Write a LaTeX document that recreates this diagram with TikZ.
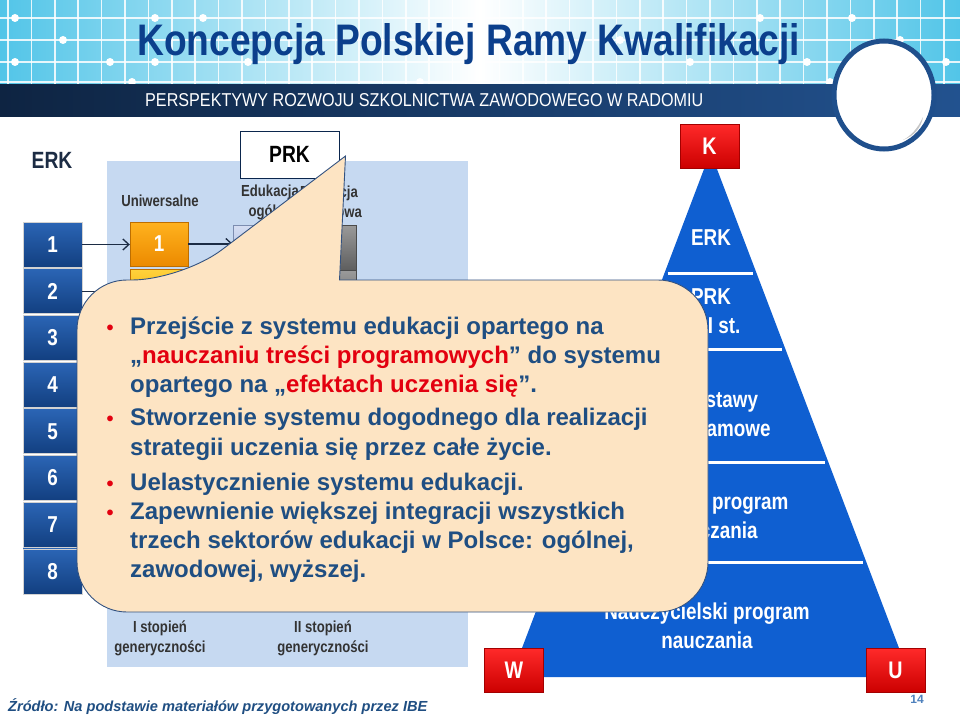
\documentclass[tikz,border=0pt]{standalone}
\usepackage{fontspec}
\setmainfont{Liberation Sans}
\newfontfamily\nar[FakeStretch=0.82]{Liberation Sans}
\usetikzlibrary{arrows.meta}
\definecolor{navy}{HTML}{1C2C44}
\definecolor{titleblue}{HTML}{0B3F8C}
\definecolor{txtblue}{HTML}{1F4E82}
\definecolor{hired}{HTML}{E3000F}
\definecolor{panel}{HTML}{C6D9F1}
\definecolor{peach}{HTML}{FDE4C3}
\definecolor{pyr}{HTML}{0F5FD1}
\definecolor{cyanA}{HTML}{52C5E8}
\definecolor{bandL}{HTML}{0E2442}
\definecolor{bandR}{HTML}{22528F}
\definecolor{ringc}{HTML}{1F4F8C}
\definecolor{labgray}{HTML}{333333}
\definecolor{pnum}{HTML}{4F81BD}
\definecolor{orT}{HTML}{FFB21E}
\definecolor{orB}{HTML}{EC8A00}
\definecolor{or2T}{HTML}{FFD23C}
\definecolor{or2B}{HTML}{F5A800}
\definecolor{lbT}{HTML}{D6DEF2}
\definecolor{lbB}{HTML}{9BB0DC}
\definecolor{grT}{HTML}{9A9A9A}
\definecolor{grB}{HTML}{5E5E5E}
\definecolor{rdT}{HTML}{FF2A2A}
\definecolor{rdB}{HTML}{CC0000}
\definecolor{bxT}{HTML}{2B65B5}
\definecolor{bxB}{HTML}{123F80}
\tikzset{
  erkbox/.style={rectangle, minimum width=59pt, minimum height=45pt, inner sep=0pt,
    top color=bxT, bottom color=bxB, draw=gray!35, line width=0.7pt,
    text=white, font=\nar\bfseries\fontsize{23}{23}\selectfont},
  orbox/.style={rectangle, minimum width=58pt, minimum height=44pt, inner sep=0pt,
    top color=orT, bottom color=orB, draw=orB!80!black, line width=0.4pt,
    text=white, font=\nar\bfseries\fontsize{23}{23}\selectfont},
  lbbox/.style={rectangle, minimum width=58pt, minimum height=45pt, inner sep=0pt,
    top color=lbT, bottom color=lbB, draw=lbB!80!black, line width=0.4pt},
  grbox/.style={rectangle, minimum width=58pt, minimum height=45pt, inner sep=0pt,
    top color=grT, bottom color=grB, draw=grB!80!black, line width=0.4pt},
  redbox/.style={rectangle, minimum width=59pt, minimum height=44pt, inner sep=0pt,
    top color=rdT, bottom color=rdB, draw=rdB!80!black, line width=0.4pt,
    text=white, font=\nar\bfseries\fontsize{24}{24}\selectfont},
  lab/.style={text=labgray, font=\nar\bfseries\fontsize{16}{20}\selectfont, align=center, inner sep=0pt},
  pyrtxt/.style={text=white, font=\nar\bfseries\fontsize{23}{29}\selectfont, align=center, inner sep=0pt},
  big/.style={text=navy, font=\nar\bfseries\fontsize{23.5}{23.5}\selectfont, inner sep=0pt},
  cline/.style={anchor=base west, text=txtblue, font=\bfseries\fontsize{24}{24}\selectfont, inner sep=0pt},
  cbul/.style={anchor=base, text=hired, font=\bfseries\fontsize{20}{20}\selectfont, inner sep=0pt},
  arr/.style={draw=navy, line width=1.3pt, -{Straight Barb[length=6pt,width=11pt]}},
  gridl/.style={draw=white, line width=1.6pt, opacity=0.85},
}
\begin{document}
\begin{tikzpicture}[x=1pt,y=-1pt]
\useasboundingbox (0,0) rectangle (960,717);
\fill[white] (0,0) rectangle (960,717);
% header
\shade[left color=cyanA, right color=cyanA, middle color=white] (0,0) rectangle (960,84);
\begin{scope}
\clip (0,0) rectangle (960,84);
\foreach \k in {0,...,40} \draw[gridl] ({8+23.4*\k},0) -- ({8+23.4*\k},84);
\foreach \yy in {18,40,62,82} \draw[gridl] (0,\yy) -- (960,\yy);
\foreach \p in {(15,18),(63,40),(15,62),(110,62),(155,62),(155,18),(203,18),(248,62),(132,82),(852,18),(900,40),(807,62),(946,62),(830,82),(760,18),(690,62),(620,40),(420,82)}
  \fill[white] \p circle (4);
\end{scope}
\shade[left color=bandL, right color=bandR] (0,84) rectangle (960,116);
\node[anchor=base west, inner sep=0pt, text=titleblue] (title) at (137,56)
  {\resizebox{663pt}{32pt}{\bfseries Koncepcja Polskiej Ramy Kwalifikacji}};
\node[anchor=base west, inner sep=0pt, text=white] (band) at (145,106)
  {\resizebox{558pt}{13pt}{\nar PERSPEKTYWY ROZWOJU SZKOLNICTWA ZAWODOWEGO W RADOMIU}};
\draw[ringc, line width=5pt, fill=white] (884,95) ellipse [x radius=50, y radius=54];
\fill[gray!45] (903,140) .. controls (911,136) and (918,128) .. (923,117) .. controls (921,128) and (914,136) .. (903,140);
% left panel
\fill[panel] (107,161) rectangle (468,667);
\node[big] (erk) at (52,160) {ERK};
\node[rectangle, draw=bxB!60!black, line width=0.8pt, fill=white, minimum width=99pt, minimum height=47pt, inner sep=0pt, text=black, font=\nar\bfseries\fontsize{23.5}{23.5}\selectfont] (prk) at (289.5,154.5) {PRK};
\node[lab] (uni) at (160,201) {Uniwersalne};
\node[lab] (edo) at (270,202) {Edukacja\\ogólna};
\node[lab] (edz) at (329,202) {Edukacja\\zawodowa};
\foreach \i in {1,...,8} \node[erkbox] (e\i) at (52.5,{244.5+46.7*(\i-1)}) {\i};
\node[orbox] (o1) at (159,244) {1};
\node[orbox, top color=or2T, bottom color=or2B] (o2) at (159,291) {};
\node[lbbox] (lb1) at (262,247.5) {};
\node[grbox] (g1) at (327,247.5) {};
\node[grbox] (g2) at (327,293) {};
\draw[arr] (e1.east) -- (e1.east -| o1.west);
\draw[arr] (o1.east) -- (o1.east -| lb1.west);
\draw[arr] (e2.east) -- (e2.east -| o2.west);
\node[lab] (st1) at (160,638) {I stopień\\generyczności};
\node[lab] (st2) at (323,638) {II stopień\\generyczności};
% pyramid
\fill[pyr] (710.5,152) -- (910,677) -- (511,677) -- cycle;
\foreach \yy in {273,349,462,562}
  \draw[white, line width=3pt] ({710.5-0.38*(\yy-152)+3},\yy) -- ({710.5+0.38*(\yy-152)-3},\yy);
\node[pyrtxt] (p1) at (711,238) {ERK};
\node[pyrtxt] (p2) at (711,311.5) {PRK\\I i II st.};
\node[pyrtxt] (p3) at (714,416) {Podstawy\\programowe};
\node[pyrtxt] (p4) at (712,516) {Szkolny program\\nauczania};
\node[pyrtxt] (p5) at (707,626) {Nauczycielski program\\nauczania};
\node[redbox] (K) at (709.5,146) {K};
\node[redbox] (W) at (514,670) {W};
\node[redbox] (U) at (895.5,670) {U};
\node[anchor=base, inner sep=0pt, text=pnum, font=\bfseries\fontsize{12}{12}\selectfont] (pg) at (917,703) {14};
\node[anchor=base west, inner sep=0pt, text=txtblue, font=\bfseries\itshape\fontsize{14.6}{14.6}\selectfont] (src) at (8,711)
  {Źródło: Na podstawie materiałów przygotowanych przez IBE};
% callout
\draw[draw=bxB!70!gray, line width=0.9pt, fill=peach]
  (500,280) [rounded corners=50pt] -- (708,280) -- (708,612) -- (77,612) -- (77,280) -- (182,280)
  [sharp corners] -- (345.5,156) -- (339.5,280) -- cycle;
\node[cbul] (b1) at (110,334) {\textbullet};
\node[cbul] (b2) at (110,425) {\textbullet};
\node[cbul] (b3) at (110,490) {\textbullet};
\node[cbul] (b4) at (110,519) {\textbullet};
\node[cline] (l1) at (130,334) {Przejście z systemu edukacji opartego na};
\node[cline] (l2) at (130,363) {„{\color{hired}nauczaniu treści programowych}" do systemu};
\node[cline] (l3) at (130,392) {opartego na „{\color{hired}efektach uczenia się}”.};
\node[cline] (l4) at (130,425) {Stworzenie systemu dogodnego dla realizacji};
\node[cline] (l5) at (130,455) {strategii uczenia się przez całe życie.};
\node[cline] (l6) at (130,490) {Uelastycznienie systemu edukacji.};
\node[cline] (l7) at (130,519) {Zapewnienie większej integracji wszystkich};
\node[cline] (l8) at (130,548) {trzech sektorów edukacji w Polsce: ogólnej,};
\node[cline] (l9) at (130,577) {zawodowej, wyższej.};
\end{tikzpicture}
\end{document}
